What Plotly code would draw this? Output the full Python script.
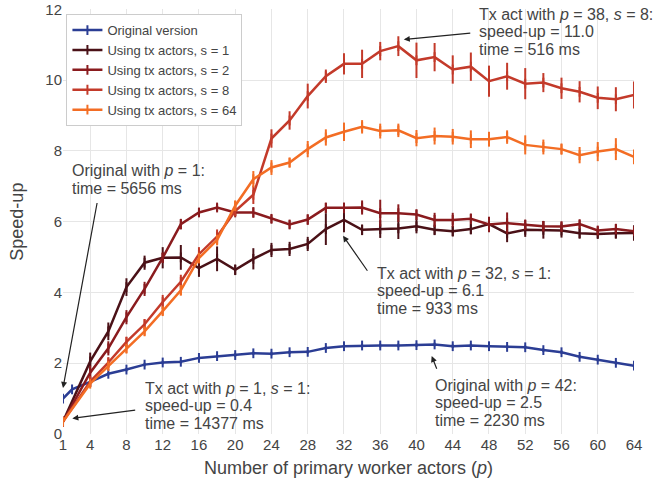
import plotly.graph_objects as go

P_ORIG = [1, 2, 4, 6, 8, 10, 12, 14, 16, 18, 20, 22, 24, 26, 28, 30, 32, 34, 36, 38, 40,
          42, 44, 46, 48, 50, 52, 54, 56, 58, 60, 62, 64]
P_TX = [1, 4, 6, 8, 10, 12, 14, 16, 18, 20, 22, 24, 26, 28, 30, 32, 34, 36, 38, 40,
        42, 44, 46, 48, 50, 52, 54, 56, 58, 60, 62, 64]

orig = [1.0, 1.26, 1.47, 1.7, 1.82, 1.96, 2.02, 2.04, 2.15, 2.2, 2.23, 2.28, 2.27, 2.31, 2.32,
        2.43, 2.48, 2.5, 2.5, 2.5, 2.51, 2.53, 2.48, 2.5, 2.48, 2.46, 2.45, 2.37, 2.31, 2.18,
        2.1, 2.01, 1.93]
orig_err = [0.04, 0.04, 0.05, 0.05, 0.05, 0.05, 0.05, 0.05, 0.05, 0.05, 0.05, 0.05, 0.05,
            0.05, 0.05, 0.05, 0.05, 0.05, 0.05, 0.05, 0.05, 0.05, 0.05, 0.05, 0.05, 0.05,
            0.05, 0.05, 0.05, 0.05, 0.05, 0.05, 0.05]

s1 = [0.35, 2.05, 2.9, 4.15, 4.84, 4.98, 4.99, 4.69, 4.95, 4.64, 4.95, 5.2, 5.23, 5.37, 5.79,
      6.05, 5.77, 5.79, 5.81, 5.87, 5.77, 5.73, 5.79, 5.93, 5.67, 5.77, 5.77, 5.75, 5.67,
      5.65, 5.67, 5.68]
s1_err = [0.05, 0.25, 0.25, 0.25, 0.2, 0.3, 0.35, 0.25, 0.35, 0.15, 0.3, 0.2, 0.2, 0.2, 0.45,
          0.35, 0.15, 0.25, 0.3, 0.2, 0.15, 0.15, 0.15, 0.2, 0.25, 0.2, 0.25, 0.2, 0.15, 0.12,
          0.15, 0.22]

s2 = [0.35, 1.73, 2.42, 3.3, 4.1, 4.98, 5.93, 6.26, 6.4, 6.26, 6.26, 6.08, 5.92, 6.06, 6.39,
      6.39, 6.4, 6.24, 6.24, 6.2, 6.05, 6.05, 6.08, 5.92, 5.96, 5.91, 5.87, 5.86, 5.93, 5.75,
      5.79, 5.73]
s2_err = [0.05, 0.2, 0.2, 0.2, 0.2, 0.15, 0.15, 0.12, 0.1, 0.1, 0.15, 0.12, 0.12, 0.15, 0.15,
          0.15, 0.2, 0.38, 0.25, 0.15, 0.2, 0.2, 0.15, 0.22, 0.3, 0.15, 0.15, 0.15, 0.12, 0.12,
          0.15, 0.12]

s8 = [0.35, 1.48, 2.02, 2.6, 3.1, 3.73, 4.3, 5.08, 5.58, 6.3, 6.76, 8.35, 8.86, 9.55, 10.11,
      10.46, 10.46, 10.82, 10.96, 10.56, 10.65, 10.3, 10.38, 9.97, 10.11, 9.9, 9.93, 9.77,
      9.67, 9.5, 9.46, 9.58]
s8_err = [0.05, 0.15, 0.15, 0.15, 0.15, 0.2, 0.2, 0.2, 0.2, 0.15, 0.26, 0.26, 0.26, 0.35, 0.19,
          0.3, 0.4, 0.26, 0.28, 0.5, 0.4, 0.4, 0.4, 0.44, 0.38, 0.44, 0.27, 0.3, 0.3, 0.32,
          0.34, 0.38]

s64 = [0.35, 1.42, 1.92, 2.41, 2.9, 3.47, 4.06, 4.97, 5.48, 6.45, 7.2, 7.53, 7.67, 8.05, 8.38,
       8.54, 8.68, 8.56, 8.58, 8.36, 8.42, 8.4, 8.33, 8.33, 8.39, 8.17, 8.11, 8.05, 7.88, 7.98,
       8.05, 7.83]
s64_err = [0.05, 0.1, 0.1, 0.12, 0.12, 0.12, 0.15, 0.15, 0.15, 0.15, 0.23, 0.21, 0.14, 0.23,
           0.23, 0.26, 0.19, 0.21, 0.19, 0.23, 0.24, 0.22, 0.25, 0.21, 0.19, 0.27, 0.21, 0.16,
           0.23, 0.27, 0.31, 0.21]

X_TICKS = [1, 4, 8, 12, 16, 20, 24, 28, 32, 36, 40, 44, 48, 52, 56, 60, 64]
Y_TICKS = [0, 2, 4, 6, 8, 10, 12]

series = [
    ("Original version", P_ORIG, orig, orig_err, "#2b3d94"),
    ("Using tx actors, s = 1", P_TX, s1, s1_err, "#4a1117"),
    ("Using tx actors, s = 2", P_TX, s2, s2_err, "#8a1b1e"),
    ("Using tx actors, s = 8", P_TX, s8, s8_err, "#c33a2a"),
    ("Using tx actors, s = 64", P_TX, s64, s64_err, "#f36d24"),
]

FONT = "Liberation Sans, Arial, sans-serif"
TXT = "#444444"

fig = go.Figure()
for name, xs, ys, es, col in series:
    fig.add_trace(go.Scatter(
        x=xs, y=ys, name=name, mode="lines+markers",
        line=dict(color=col, width=2.5),
        marker=dict(symbol="line-ns-open", size=7, color=col, line=dict(color=col, width=2)),
        error_y=dict(type="data", array=es, visible=True, color=col, thickness=2, width=0),
    ))

# annotation text blocks: left x, list of (line y, line text)
blocks = [
    (1.77, [(7.437, "Original with <i>p</i> = 1:"), (6.93, "time = 5656 ms")]),
    (9.86, [(1.296, "Tx act with <i>p</i> = 1, <i>s</i> = 1:"), (0.803, "speed-up = 0.4"),
            (0.31, "time = 14377 ms")]),
    (35.43, [(4.535, "Tx act with <i>p</i> = 32, <i>s</i> = 1:"), (4.042, "speed-up = 6.1"),
             (3.549, "time = 933 ms")]),
    (41.86, [(1.38, "Original with <i>p</i> = 42:"), (0.887, "speed-up = 2.5"),
             (0.394, "time = 2230 ms")]),
    (46.65, [(11.859, "Tx act with <i>p</i> = 38, <i>s</i> = 8:"), (11.366, "speed-up = 11.0"),
             (10.873, "time = 516 ms")]),
]
for x, lines in blocks:
    for y, t in lines:
        fig.add_annotation(x=x, y=y, xref="x", yref="y", text=t, showarrow=False,
                           xanchor="left", yanchor="middle", align="left",
                           font=dict(family=FONT, size=16, color=TXT))

# arrows: (head x, head y, tail x, tail y)
arrows = [
    (1.0, 1.3, 4.79, 6.57),
    (2.03, 0.44, 9.13, 0.68),
    (31.9, 5.6, 34.7, 4.57),
    (41.68, 2.2, 42.3, 1.8),
    (38.6, 11.15, 46.1, 11.33),
]
for hx, hy, tx, ty in arrows:
    fig.add_annotation(x=hx, y=hy, ax=tx, ay=ty, xref="x", yref="y", axref="x", ayref="y",
                       text="", showarrow=True, arrowhead=2, arrowsize=1, arrowwidth=1.2,
                       arrowcolor="#222222", standoff=0, startstandoff=0)

# axis titles as paper annotations
fig.add_annotation(x=0.5, y=-0.08, xref="paper", yref="paper", showarrow=False,
                   text="Number of primary worker actors (<i>p</i>)", xanchor="center",
                   yanchor="middle", font=dict(family=FONT, size=18, color=TXT))
fig.add_annotation(x=-0.082, y=0.5, xref="paper", yref="paper", showarrow=False,
                   text="Speed-up", textangle=-90, xanchor="center", yanchor="middle",
                   font=dict(family=FONT, size=18, color=TXT))

fig.update_layout(
    width=660, height=490,
    margin=dict(l=63, r=26, t=9, b=56, autoexpand=False),
    paper_bgcolor="white", plot_bgcolor="white",
    font=dict(family=FONT, size=14, color=TXT),
    legend=dict(x=0.006, y=0.988, xanchor="left", yanchor="top",
                bgcolor="white", bordercolor="#cccccc", borderwidth=1,
                font=dict(family=FONT, size=13, color=TXT),
                tracegroupgap=0, itemwidth=30),
    showlegend=True,
)
fig.update_xaxes(range=[0.999, 64.001], tickvals=X_TICKS, ticktext=[str(v) for v in X_TICKS],
                 showgrid=True, gridcolor="#e6e6e6", gridwidth=1, zeroline=False,
                 showline=False, ticks="", tickfont=dict(size=15, color=TXT),
                 automargin=False, ticklabeloverflow="allow")
fig.update_yaxes(range=[-0.001, 12.01], tickvals=Y_TICKS, showgrid=True, gridcolor="#e6e6e6",
                 gridwidth=1, zeroline=False, showline=False, ticks="",
                 tickfont=dict(size=15, color=TXT), automargin=False,
                 ticklabeloverflow="allow")

fig.write_html("out.html", config={"displayModeBar": False},
               post_script="document.body.style.margin='0';document.body.style.overflow='hidden';")
